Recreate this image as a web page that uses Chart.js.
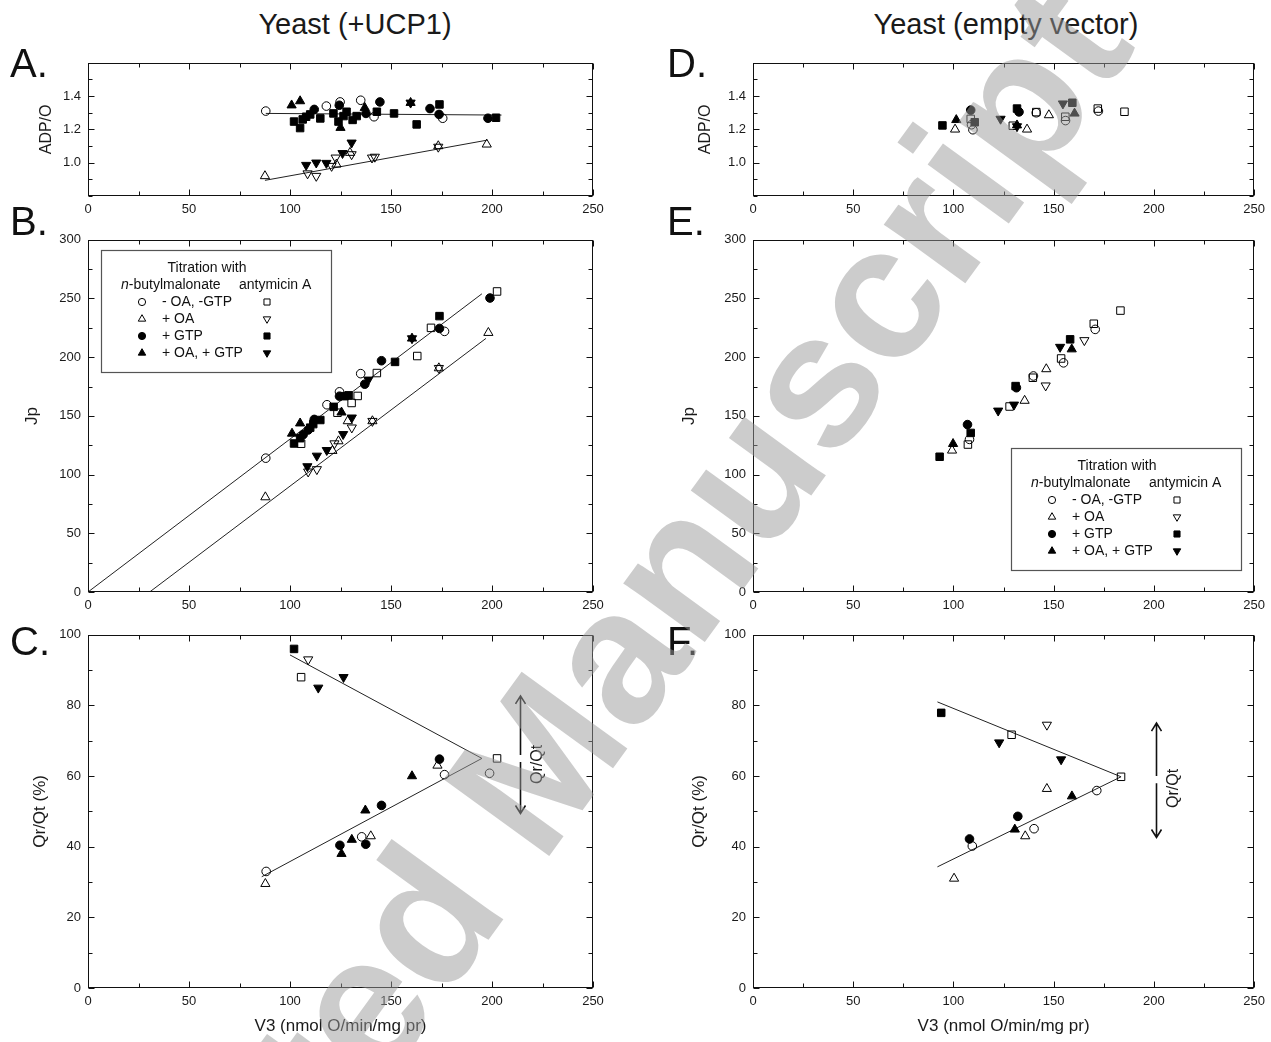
<!DOCTYPE html>
<html lang="en">
<head>
<meta charset="utf-8">
<title>Yeast (+UCP1) vs Yeast (empty vector)</title>
<script src="https://cdn.jsdelivr.net/npm/chart.js@4.4.1/dist/chart.umd.min.js"></script>
<style>
html,body{margin:0;padding:0;background:#fff;}
body{position:relative;width:1271px;height:1042px;overflow:hidden;font-family:'Liberation Sans',Arial,Helvetica,sans-serif;color:#111;}
canvas{position:absolute;}
.head{position:absolute;width:600px;text-align:center;font-size:29px;line-height:1;color:#1a1a1a;white-space:nowrap;}
.letter{position:absolute;font-size:40px;line-height:1;color:#111;}
#wm{position:absolute;left:0;top:0;pointer-events:none;}
</style>
</head>
<body>
<canvas id="cA" width="620" height="172" style="left:0;top:48px"></canvas>
<canvas id="cB" width="620" height="390" style="left:0;top:225px"></canvas>
<canvas id="cC" width="620" height="422" style="left:0;top:620px"></canvas>
<canvas id="cD" width="606" height="172" style="left:665px;top:48px"></canvas>
<canvas id="cE" width="606" height="390" style="left:665px;top:225px"></canvas>
<canvas id="cF" width="606" height="422" style="left:665px;top:620px"></canvas>

<div class="head" style="left:55px;top:10px">Yeast (+UCP1)</div>
<div class="head" style="left:706px;top:10px">Yeast (empty vector)</div>
<div class="letter" style="left:10px;top:43px">A.</div>
<div class="letter" style="left:10px;top:201px">B.</div>
<div class="letter" style="left:10px;top:621px">C.</div>
<div class="letter" style="left:667px;top:43px">D.</div>
<div class="letter" style="left:667px;top:201px">E.</div>
<div class="letter" style="left:667px;top:621px">F.</div>

<svg id="wm" width="1271" height="1042" viewBox="0 0 1271 1042">
  <text x="8" y="1601" transform="rotate(-54 8 1601)" font-family="'Liberation Sans', Arial, sans-serif" font-weight="bold" font-size="190" fill="#999999" fill-opacity="0.5">Accepted Manuscript</text>
</svg>

<script>
// ================= DATA =================
// tick labels
const xTickLabels   = [0, 50, 100, 150, 200, 250];
const adpTickLabels = [1.0, 1.2, 1.4];
const jpTickLabels  = [0, 50, 100, 150, 200, 250, 300];
const qrTickLabels  = [0, 20, 40, 60, 80, 100];

// texts
const xAxisTitle = 'V3 (nmol O/min/mg pr)';
const legendTitle = 'Titration with';
const legendColumns = ['n-butylmalonate', 'antymicin A'];
const conditionNames = ['- OA, -GTP', '+ OA', '+ GTP', '+ OA, + GTP'];

// ---- Panel A : Yeast (+UCP1), ADP/O vs V3 ----
const A_oc = [[88,1.31],[118,1.34],[124.8,1.365],[135,1.375],[141.6,1.276],[175.6,1.267]];
const A_ot = [[87.6,0.92],[123,0.99],[129.7,1.06],[173.4,1.10],[197.4,1.11]];
const A_fc = [[112,1.32],[124.4,1.345],[137.6,1.296],[144.5,1.365],[169.3,1.325],[173.8,1.29],[198,1.267]];
const A_ft = [[100.8,1.345],[105,1.37],[125,1.21],[137,1.33],[159.7,1.36]];
const A_os = [];
const A_oi = [[108.7,0.935],[113,0.92],[120.6,0.98],[122.6,1.03],[130.5,1.05],[140.6,1.03],[142,1.035],[173.4,1.095]];
const A_fs = [[102,1.247],[105,1.208],[106.3,1.26],[108,1.276],[110,1.29],[115,1.266],[121.5,1.296],[124,1.247],[126.5,1.28],[128,1.306],[131,1.257],[133,1.28],[143,1.306],[151.5,1.296],[162.7,1.23],[174,1.35],[202,1.27]];
const A_fi = [[108,0.986],[113,1.0],[118,0.998],[126,1.057],[130.5,1.12],[159.7,1.36]];
const A_fitUpper = [[88,1.296],[204.7,1.286]];
const A_fitLower = [[87.6,0.894],[197.4,1.135]];

// ---- Panel B : Yeast (+UCP1), Jp vs V3 ----
const B_oc = [[88,114],[118.3,159.5],[124.5,170.5],[135,186],[176.5,222]];
const B_ot = [[87.8,80.8],[121,120.3],[124,128.5],[128.6,145.6],[140.8,145.6],[173.7,190.7],[198.2,220.8]];
const B_fc = [[106.5,134],[109,138],[112,147],[124.5,166.8],[137,177],[145.3,197],[174,224.5],[199,250.4]];
const B_ft = [[101,135],[105,143.7],[125.5,153],[160.4,216]];
const B_os = [[105.5,126.3],[123.5,152.7],[130.5,161],[133.5,167],[143,186.5],[163,201],[169.8,225],[202.5,256]];
const B_oi = [[109,102.5],[113.3,104.5],[122,126.5],[130.6,140],[140.8,145.6],[173.7,190.7]];
const B_fs = [[102,126.5],[105,131],[110,140],[111.5,143],[115,146.5],[121.6,157.7],[127,166.8],[129,167.5],[152,196],[174,235]];
const B_fi = [[108.6,107],[113.3,116],[118.2,120.8],[126.3,134.4],[130.6,148.5],[138.8,180.8],[160.4,216]];
const B_fitUpper = [[0,0],[195,254]];
const B_fitLower = [[30.5,0],[197,216]];

// ---- Panel C : Yeast (+UCP1), Qr/Qt vs V3 ----
const C_oc = [[88.2,33],[135.5,42.8],[176.5,60.4],[198.8,60.8]];
const C_ot = [[87.8,29.5],[140,43],[173,63]];
const C_fc = [[124.7,40.4],[137.5,40.7],[145.3,51.7],[174,64.8]];
const C_ft = [[125.5,38],[130.6,42],[137.3,50.3],[160.4,60]];
const C_os = [[105.5,88],[202.5,65]];
const C_oi = [[109,93]];
const C_fs = [[102,96]];
const C_fi = [[114,85],[126.5,88]];
const C_fitUpper = [[100,94.3],[195,65]];
const C_fitLower = [[86,31.5],[195,65]];

// ---- Panel D : Yeast (empty vector), ADP/O vs V3 ----
const D_oc = [[109,1.228],[109.7,1.198],[141.3,1.30],[155.9,1.253],[172.3,1.31]];
const D_ot = [[100.8,1.20],[136.7,1.20],[147.6,1.286]];
const D_fc = [[108.6,1.316],[132.7,1.305]];
const D_ft = [[101.4,1.257],[131.7,1.225],[160.4,1.296]];
const D_os = [[108.6,1.263],[129.6,1.222],[141.3,1.304],[155.8,1.276],[172,1.325],[185.3,1.306]];
const D_oi = [];
const D_fs = [[94.5,1.224],[110.6,1.243],[131.7,1.325],[159.3,1.36]];
const D_fi = [[123.5,1.263],[131.7,1.218],[154.6,1.355]];

// ---- Panel E : Yeast (empty vector), Jp vs V3 ----
const E_oc = [[108,130],[139.9,184],[154.9,195.2],[170.7,223.7]];
const E_ot = [[99.3,120.6],[135.5,163],[146.3,189.9]];
const E_fc = [[107,142.6],[131.4,174]];
const E_ft = [[99.8,126.2],[159,206.8]];
const E_os = [[107.2,125.6],[128,158],[139.6,182.5],[153.7,198.9],[170,228.5],[183.3,239.7]];
const E_oi = [[146,175.8],[165.3,214.4]];
const E_fs = [[93.1,115.2],[108.6,135.5],[131,175.4],[158.2,215.2]];
const E_fi = [[122.3,154.4],[130.2,159.5],[153.2,208.7]];

// ---- Panel F : Yeast (empty vector), Qr/Qt vs V3 ----
const F_oc = [[109.4,40.2],[140.2,45.1],[171.5,55.9]];
const F_ot = [[100.3,31],[135.8,43],[146.6,56.4]];
const F_fc = [[108,42.2],[132.1,48.6]];
const F_ft = [[130.6,44.9],[159.1,54.3]];
const F_os = [[129,71.7],[183.6,59.8]];
const F_oi = [[146.6,74.5]];
const F_fs = [[93.9,77.9]];
const F_fi = [[122.8,69.5],[153.7,64.7]];
const F_fitUpper = [[92,81],[183.6,59.8]];
const F_fitLower = [[92,34.3],[183.6,59.8]];

// ================= STYLES =================
const SERIES = {
  oc: {style:'circle',   rot:0,   filled:false, r:4.3},
  ot: {style:'triangle', rot:0,   filled:false, r:5.3},
  fc: {style:'circle',   rot:0,   filled:true,  r:4.3},
  ft: {style:'triangle', rot:0,   filled:true,  r:5.3},
  os: {style:'rect',     rot:0,   filled:false, r:5.3},
  oi: {style:'triangle', rot:180, filled:false, r:5.3},
  fs: {style:'rect',     rot:0,   filled:true,  r:5.3},
  fi: {style:'triangle', rot:180, filled:true,  r:5.3}
};
const LEFT_COL  = ['oc','ot','fc','ft'];   // n-butylmalonate
const RIGHT_COL = ['os','oi','fs','fi'];   // antymicin A
const FONT = "'Liberation Sans', Arial, Helvetica, sans-serif";
Chart.defaults.font.family = FONT;
Chart.defaults.color = '#1a1a1a';

function drawMarker(ctx, s, x, y, r) {
  ctx.beginPath();
  if (s.style === 'circle') {
    ctx.arc(x, y, r, 0, Math.PI * 2);
  } else if (s.style === 'rect') {
    const h = r * Math.SQRT1_2;
    ctx.rect(x - h, y - h, 2 * h, 2 * h);
  } else {
    const d = s.rot ? -1 : 1;
    ctx.moveTo(x, y - d * r);
    ctx.lineTo(x + 0.866 * r, y + d * r / 2);
    ctx.lineTo(x - 0.866 * r, y + d * r / 2);
    ctx.closePath();
  }
  if (s.filled) { ctx.fillStyle = '#000'; ctx.fill(); }
  ctx.lineWidth = 1; ctx.strokeStyle = '#000'; ctx.stroke();
}

// frame with inward ticks on all four sides
const framePlugin = {
  id: 'frame',
  afterDatasetsDraw(chart) {
    const {ctx, chartArea: a} = chart;
    const L = Math.round(a.left) + 0.5, R = Math.round(a.right) - 0.5;
    const T = Math.round(a.top) + 0.5, B = Math.round(a.bottom) - 0.5;
    ctx.save();
    ctx.strokeStyle = '#111'; ctx.lineWidth = 1;
    ctx.strokeRect(L, T, R - L, B - T);
    ['x', 'y'].forEach(id => {
      const s = chart.scales[id];
      s.ticks.forEach(t => {
        const p = Math.round(s.getPixelForValue(t.value)) + 0.5;
        const len = (t.label === '' ? 4 : 6);
        ctx.beginPath();
        if (id === 'x') { ctx.moveTo(p, B); ctx.lineTo(p, B - len); ctx.moveTo(p, T); ctx.lineTo(p, T + len); }
        else { ctx.moveTo(L, p); ctx.lineTo(L + len, p); ctx.moveTo(R, p); ctx.lineTo(R - len, p); }
        ctx.stroke();
      });
    });
    ctx.restore();
  }
};

// boxed legend
const legendBoxPlugin = {
  id: 'legendBox',
  afterDraw(chart, args, o) {
    if (!o || !o.show) return;
    const {ctx, chartArea: a} = chart;
    const x0 = Math.round(a.left + o.dx), y0 = Math.round(a.top + o.dy), w = 230, h = 122;
    ctx.save();
    ctx.fillStyle = '#fff'; ctx.fillRect(x0, y0, w, h);
    ctx.strokeStyle = '#555'; ctx.lineWidth = 1.2; ctx.strokeRect(x0 + 0.5, y0 + 0.5, w, h);
    ctx.fillStyle = '#111'; ctx.textBaseline = 'middle';
    const fs = 14;
    ctx.font = fs + 'px ' + FONT;
    ctx.textAlign = 'center';
    ctx.fillText(legendTitle, x0 + 106, y0 + 18);
    ctx.textAlign = 'left';
    const first = legendColumns[0];
    ctx.font = 'italic ' + fs + 'px ' + FONT;
    ctx.fillText(first.charAt(0), x0 + 20, y0 + 35);
    const wn = ctx.measureText(first.charAt(0)).width;
    ctx.font = fs + 'px ' + FONT;
    ctx.fillText(first.slice(1), x0 + 20 + wn, y0 + 35);
    ctx.fillText(legendColumns[1], x0 + 138, y0 + 35);
    conditionNames.forEach((name, i) => {
      const yy = y0 + 52 + i * 17;
      ctx.fillStyle = '#111';
      ctx.fillText(name, x0 + 61, yy);
      const sl = SERIES[LEFT_COL[i]], sr = SERIES[RIGHT_COL[i]];
      drawMarker(ctx, sl, x0 + 41, yy, sl.style === 'circle' ? 3.6 : 4.3);
      drawMarker(ctx, sr, x0 + 166, yy, sr.style === 'circle' ? 3.6 : 4.3);
      ctx.fillStyle = '#111';
    });
    ctx.restore();
  }
};

// double headed Qr/Qt arrow
const arrowPlugin = {
  id: 'qrArrow',
  afterDraw(chart, args, o) {
    if (!o || !o.show) return;
    const {ctx} = chart; const sx = chart.scales.x, sy = chart.scales.y;
    const x = Math.round(sx.getPixelForValue(o.x)) + 0.5;
    const yT = sy.getPixelForValue(o.yTop), yB = sy.getPixelForValue(o.yBottom);
    const g1 = sy.getPixelForValue(o.gapTop), g2 = sy.getPixelForValue(o.gapBottom);
    ctx.save();
    ctx.strokeStyle = '#111'; ctx.lineWidth = 1.6;
    ctx.beginPath();
    ctx.moveTo(x, yT); ctx.lineTo(x, g1); ctx.moveTo(x, g2); ctx.lineTo(x, yB);
    ctx.moveTo(x - 5, yT + 8); ctx.lineTo(x, yT); ctx.lineTo(x + 5, yT + 8);
    ctx.moveTo(x - 5, yB - 8); ctx.lineTo(x, yB); ctx.lineTo(x + 5, yB - 8);
    ctx.stroke();
    ctx.translate(sx.getPixelForValue(o.labelX), sy.getPixelForValue(o.labelY));
    ctx.rotate(-Math.PI / 2);
    ctx.fillStyle = '#1a1a1a'; ctx.font = '16px ' + FONT;
    ctx.textAlign = 'center'; ctx.textBaseline = 'middle';
    ctx.fillText('Qr/Qt', 0, 0);
    ctx.restore();
  }
};

function buildChart(canvasId, p) {
  const datasets = [];
  Object.keys(SERIES).forEach(k => {
    const arr = p.series[k];
    if (!arr || !arr.length) return;
    const s = SERIES[k];
    datasets.push({
      label: k,
      data: arr.map(([x, y]) => ({x, y})),
      showLine: false,
      pointStyle: s.style, pointRotation: s.rot, pointRadius: s.r,
      pointBorderWidth: 1, pointBorderColor: '#000',
      pointBackgroundColor: s.filled ? '#000' : 'rgba(0,0,0,0)'
    });
  });
  (p.lines || []).forEach(line => datasets.push({
    data: line.map(([x, y]) => ({x, y})), showLine: true,
    borderColor: '#222', borderWidth: 1, pointRadius: 0, pointHitRadius: 0, fill: false
  }));
  const yl = p.yLabels;
  return new Chart(document.getElementById(canvasId), {
    type: 'scatter',
    data: {datasets},
    options: {
      responsive: false, animation: false, devicePixelRatio: 1,
      layout: {padding: {left: 0, right: p.padRight, top: p.padTop, bottom: 0}},
      events: [],
      plugins: {
        legend: {display: false}, tooltip: {enabled: false},
        legendBox: p.legendBox || {show: false},
        qrArrow: p.arrow || {show: false}
      },
      scales: {
        x: {
          type: 'linear', min: 0, max: 250, position: 'bottom',
          grid: {display: false, drawTicks: false}, border: {display: false},
          ticks: {stepSize: 25, autoSkip: false, maxRotation: 0, padding: 6, color: '#1a1a1a', font: {size: 13},
            callback: v => xTickLabels.includes(v) ? String(v) : ''},
          title: p.xTitle ? {display: true, text: xAxisTitle, font: {size: 17}, color: '#1a1a1a', padding: {top: 0, bottom: 5}} : {display: false},
          afterFit: s => { s.height = p.xAxisH; }
        },
        y: {
          type: 'linear', min: p.yMin, max: p.yMax, position: 'left',
          grid: {display: false, drawTicks: false}, border: {display: false},
          ticks: {stepSize: p.yStep, autoSkip: false, padding: 7, color: '#1a1a1a', font: {size: 13},
            callback: v => yl.some(l => Math.abs(l - v) < 1e-6) ? v.toFixed(p.yDec) : ''},
          title: {display: true, text: p.yTitle, font: {size: p.yTitleSize}, color: '#1a1a1a', padding: {top: p.yTitlePad, bottom: 0}},
          afterFit: s => { s.width = 88; }
        }
      }
    },
    plugins: [framePlugin, legendBoxPlugin, arrowPlugin]
  });
}

buildChart('cA', {series: {oc:A_oc, ot:A_ot, fc:A_fc, ft:A_ft, os:A_os, oi:A_oi, fs:A_fs, fi:A_fi},
  lines: [A_fitUpper, A_fitLower], yMin: 0.8, yMax: 1.6, yStep: 0.1, yLabels: adpTickLabels, yDec: 1,
  yTitle: 'ADP/O', yTitleSize: 16, yTitlePad: 37, padTop: 12, padRight: 27, xAxisH: 24, xTitle: false});

buildChart('cB', {series: {oc:B_oc, ot:B_ot, fc:B_fc, ft:B_ft, os:B_os, oi:B_oi, fs:B_fs, fi:B_fi},
  lines: [B_fitUpper, B_fitLower], yMin: 0, yMax: 300, yStep: 25, yLabels: jpTickLabels, yDec: 0,
  yTitle: 'Jp', yTitleSize: 17, yTitlePad: 22, padTop: 12, padRight: 27, xAxisH: 23, xTitle: false,
  legendBox: {show: true, dx: 13, dy: 10}});

buildChart('cC', {series: {oc:C_oc, ot:C_ot, fc:C_fc, ft:C_ft, os:C_os, oi:C_oi, fs:C_fs, fi:C_fi},
  lines: [C_fitUpper, C_fitLower], yMin: 0, yMax: 100, yStep: 10, yLabels: qrTickLabels, yDec: 0,
  yTitle: 'Qr/Qt (%)', yTitleSize: 17, yTitlePad: 30, padTop: 12, padRight: 27, xAxisH: 54, xTitle: true,
  arrow: {show: true, x: 214, yTop: 82.7, yBottom: 49.4, gapTop: 66, gapBottom: 64, labelX: 222.7, labelY: 63.3}});

buildChart('cD', {series: {oc:D_oc, ot:D_ot, fc:D_fc, ft:D_ft, os:D_os, oi:D_oi, fs:D_fs, fi:D_fi},
  lines: [], yMin: 0.8, yMax: 1.6, yStep: 0.1, yLabels: adpTickLabels, yDec: 1,
  yTitle: 'ADP/O', yTitleSize: 16, yTitlePad: 31, padTop: 12, padRight: 16, xAxisH: 24, xTitle: false});

buildChart('cE', {series: {oc:E_oc, ot:E_ot, fc:E_fc, ft:E_ft, os:E_os, oi:E_oi, fs:E_fs, fi:E_fi},
  lines: [], yMin: 0, yMax: 300, yStep: 25, yLabels: jpTickLabels, yDec: 0,
  yTitle: 'Jp', yTitleSize: 17, yTitlePad: 14, padTop: 12, padRight: 16, xAxisH: 23, xTitle: false,
  legendBox: {show: true, dx: 258, dy: 208}});

buildChart('cF', {series: {oc:F_oc, ot:F_ot, fc:F_fc, ft:F_ft, os:F_os, oi:F_oi, fs:F_fs, fi:F_fi},
  lines: [F_fitUpper, F_fitLower], yMin: 0, yMax: 100, yStep: 10, yLabels: qrTickLabels, yDec: 0,
  yTitle: 'Qr/Qt (%)', yTitleSize: 17, yTitlePad: 24, padTop: 12, padRight: 16, xAxisH: 54, xTitle: true,
  arrow: {show: true, x: 201, yTop: 75, yBottom: 42.6, gapTop: 60, gapBottom: 58, labelX: 209.6, labelY: 56.5}});
</script>
</body>
</html>
